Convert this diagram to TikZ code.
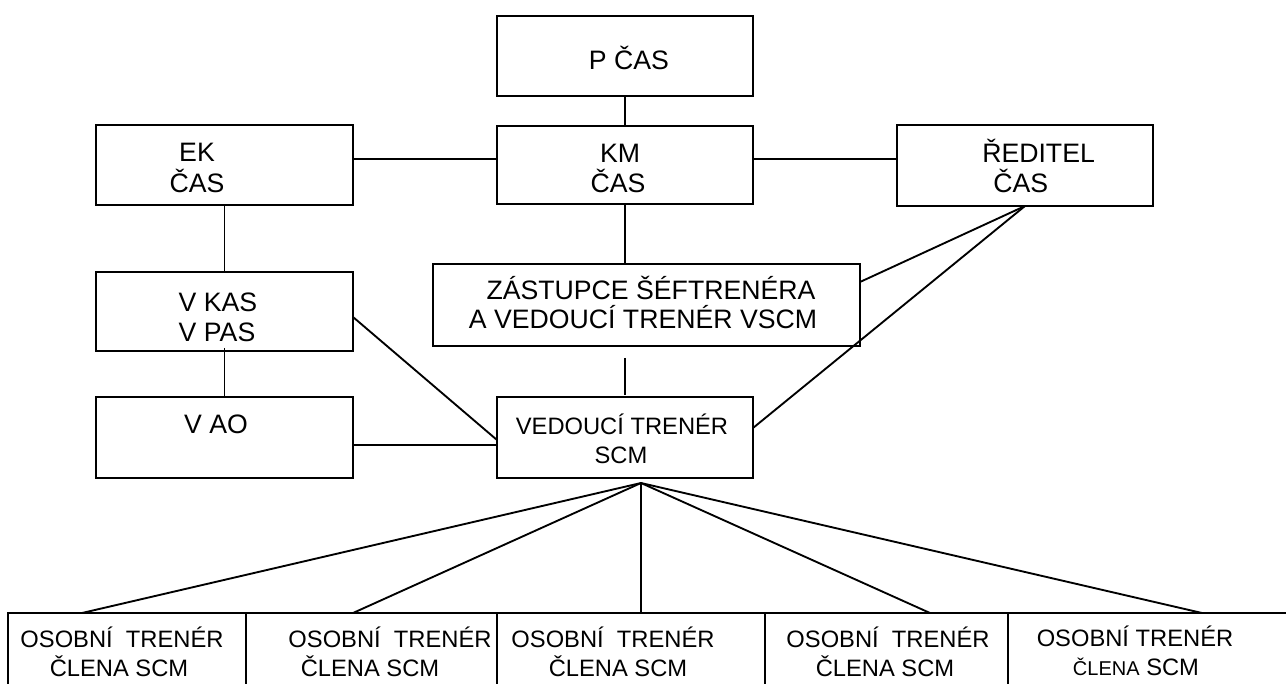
\documentclass[tikz,border=0pt]{standalone}
\usepackage{fontspec}
\setmainfont{Liberation Sans}
\usetikzlibrary{fit,calc}
\tikzset{
  box/.style={draw, line width=1.5pt, rectangle, inner sep=0pt, outer sep=0pt},
  conn/.style={line width=1.4pt},
  big/.style={anchor=base, inner sep=0pt, font=\fontsize{20}{22}\selectfont},
  small/.style={anchor=base, inner sep=0pt, font=\fontsize{17.8}{20}\selectfont},
}
\begin{document}
\begin{tikzpicture}[x=0.75pt, y=-0.75pt]
\useasboundingbox (0,0) rectangle (1286,684);
% boxes
\node[box, fit={(497,16) (753,96)}] (p) {};
\node[box, fit={(497,126) (753,204)}] (km) {};
\node[box, fit={(96,125) (353,205)}] (ek) {};
\node[box, fit={(897,125) (1153,206)}] (red) {};
\node[box, fit={(96,272) (353,351)}] (vkas) {};
\node[box, fit={(96,397) (353,478)}] (vao) {};
\node[box, fit={(433,264) (860,346)}] (za) {};
\node[box, fit={(497,397) (753,478)}] (ved) {};
\node[box, fit={(8,613) (246,700)}] (ob1) {};
\node[box, fit={(246,613) (497,700)}] (ob2) {};
\node[box, fit={(497,613) (765,700)}] (ob3) {};
\node[box, fit={(765,613) (1008,700)}] (ob4) {};
\node[box, fit={(1008,613) (1300,700)}] (ob5) {};
% texts
\node[big] (pt) at (629,70) {P ČAS};
\node[big] (kmt1) at (620,163) {KM};
\node[big] (kmt2) at (618,193) {ČAS};
\node[big] (ekt1) at (197,162) {EK};
\node[big] (ekt2) at (197,193) {ČAS};
\node[big, anchor=base west] (redt1) at (982,163) {ŘEDITEL};
\node[big, anchor=base west] (redt2) at (993,193) {ČAS};
\node[big] (vkast1) at (218,312) {V KAS};
\node[big] (vkast2) at (217,342) {V PAS};
\node[big] (vaot) at (216,434) {V AO};
\node[big] (zat1) at (651,300) {ZÁSTUPCE ŠÉFTRENÉRA};
\node[big] (zat2) at (643,329) {A VEDOUCÍ TRENÉR VSCM};
\node[small] (vedt1) at (622,435) {VEDOUCÍ TRENÉR};
\node[small] (vedt2) at (621,464) {SCM};
\node[small] (ob1t1) at (122,647) {OSOBNÍ\ \ TRENÉR};
\node[small] (ob1t2) at (119,676) {ČLENA SCM};
\node[small] (ob2t1) at (390,647) {OSOBNÍ\ \ TRENÉR};
\node[small] (ob2t2) at (370,676) {ČLENA SCM};
\node[small] (ob3t1) at (613,647) {OSOBNÍ\ \ TRENÉR};
\node[small] (ob3t2) at (618,676) {ČLENA SCM};
\node[small] (ob4t1) at (888,647) {OSOBNÍ\ \ TRENÉR};
\node[small] (ob4t2) at (885,676) {ČLENA SCM};
\node[small] (ob5t1) at (1135,646) {OSOBNÍ TRENÉR};
\node[small] (ob5t2) at (1136,675) {{\fontsize{15}{18}\selectfont ČLENA} SCM};
% connectors
\draw[conn] (p.south) -- (km.north);
\draw[conn] ($(ek.east)+(0,-6)$) -- ($(km.west)+(0,-6)$);
\draw[conn] ($(km.east)+(0,-6)$) -- ($(red.west)+(0,-6.5)$);
\draw[conn] (km.south) -- (km.south |- za.north);
\draw[conn] (ek.south) -- (vkas.north);
\draw[conn] ($(vkas.south)+(0,-3)$) -- (vao.north);
\draw[conn] ($(vao.east)+(0,7.5)$) -- ($(ved.west)+(0,7.5)$);
\draw[conn] ($(vkas.east)+(0,5.5)$) -- ($(ved.west)+(0,2.5)$);
\draw[conn] ($(za.south -| ved.north)+(0,12)$) -- ($(ved.north)+(0,-2)$);
\draw[conn] (red.south) -- ($(za.east)+(0,-23)$);
\draw[conn] (red.south) -- ($(ved.east)+(0,-9.5)$);
\coordinate (apex) at (641,483);
\draw[conn] (apex) -- ($(ob1.north west)+(74,0)$);
\draw[conn] (apex) -- ($(ob2.north west)+(107,0)$);
\draw[conn] (apex) -- ($(ob3.north west)+(144,0)$);
\draw[conn] (apex) -- ($(ob4.north west)+(165,0)$);
\draw[conn] (apex) -- ($(ob5.north west)+(194,0)$);
\end{tikzpicture}
\end{document}
